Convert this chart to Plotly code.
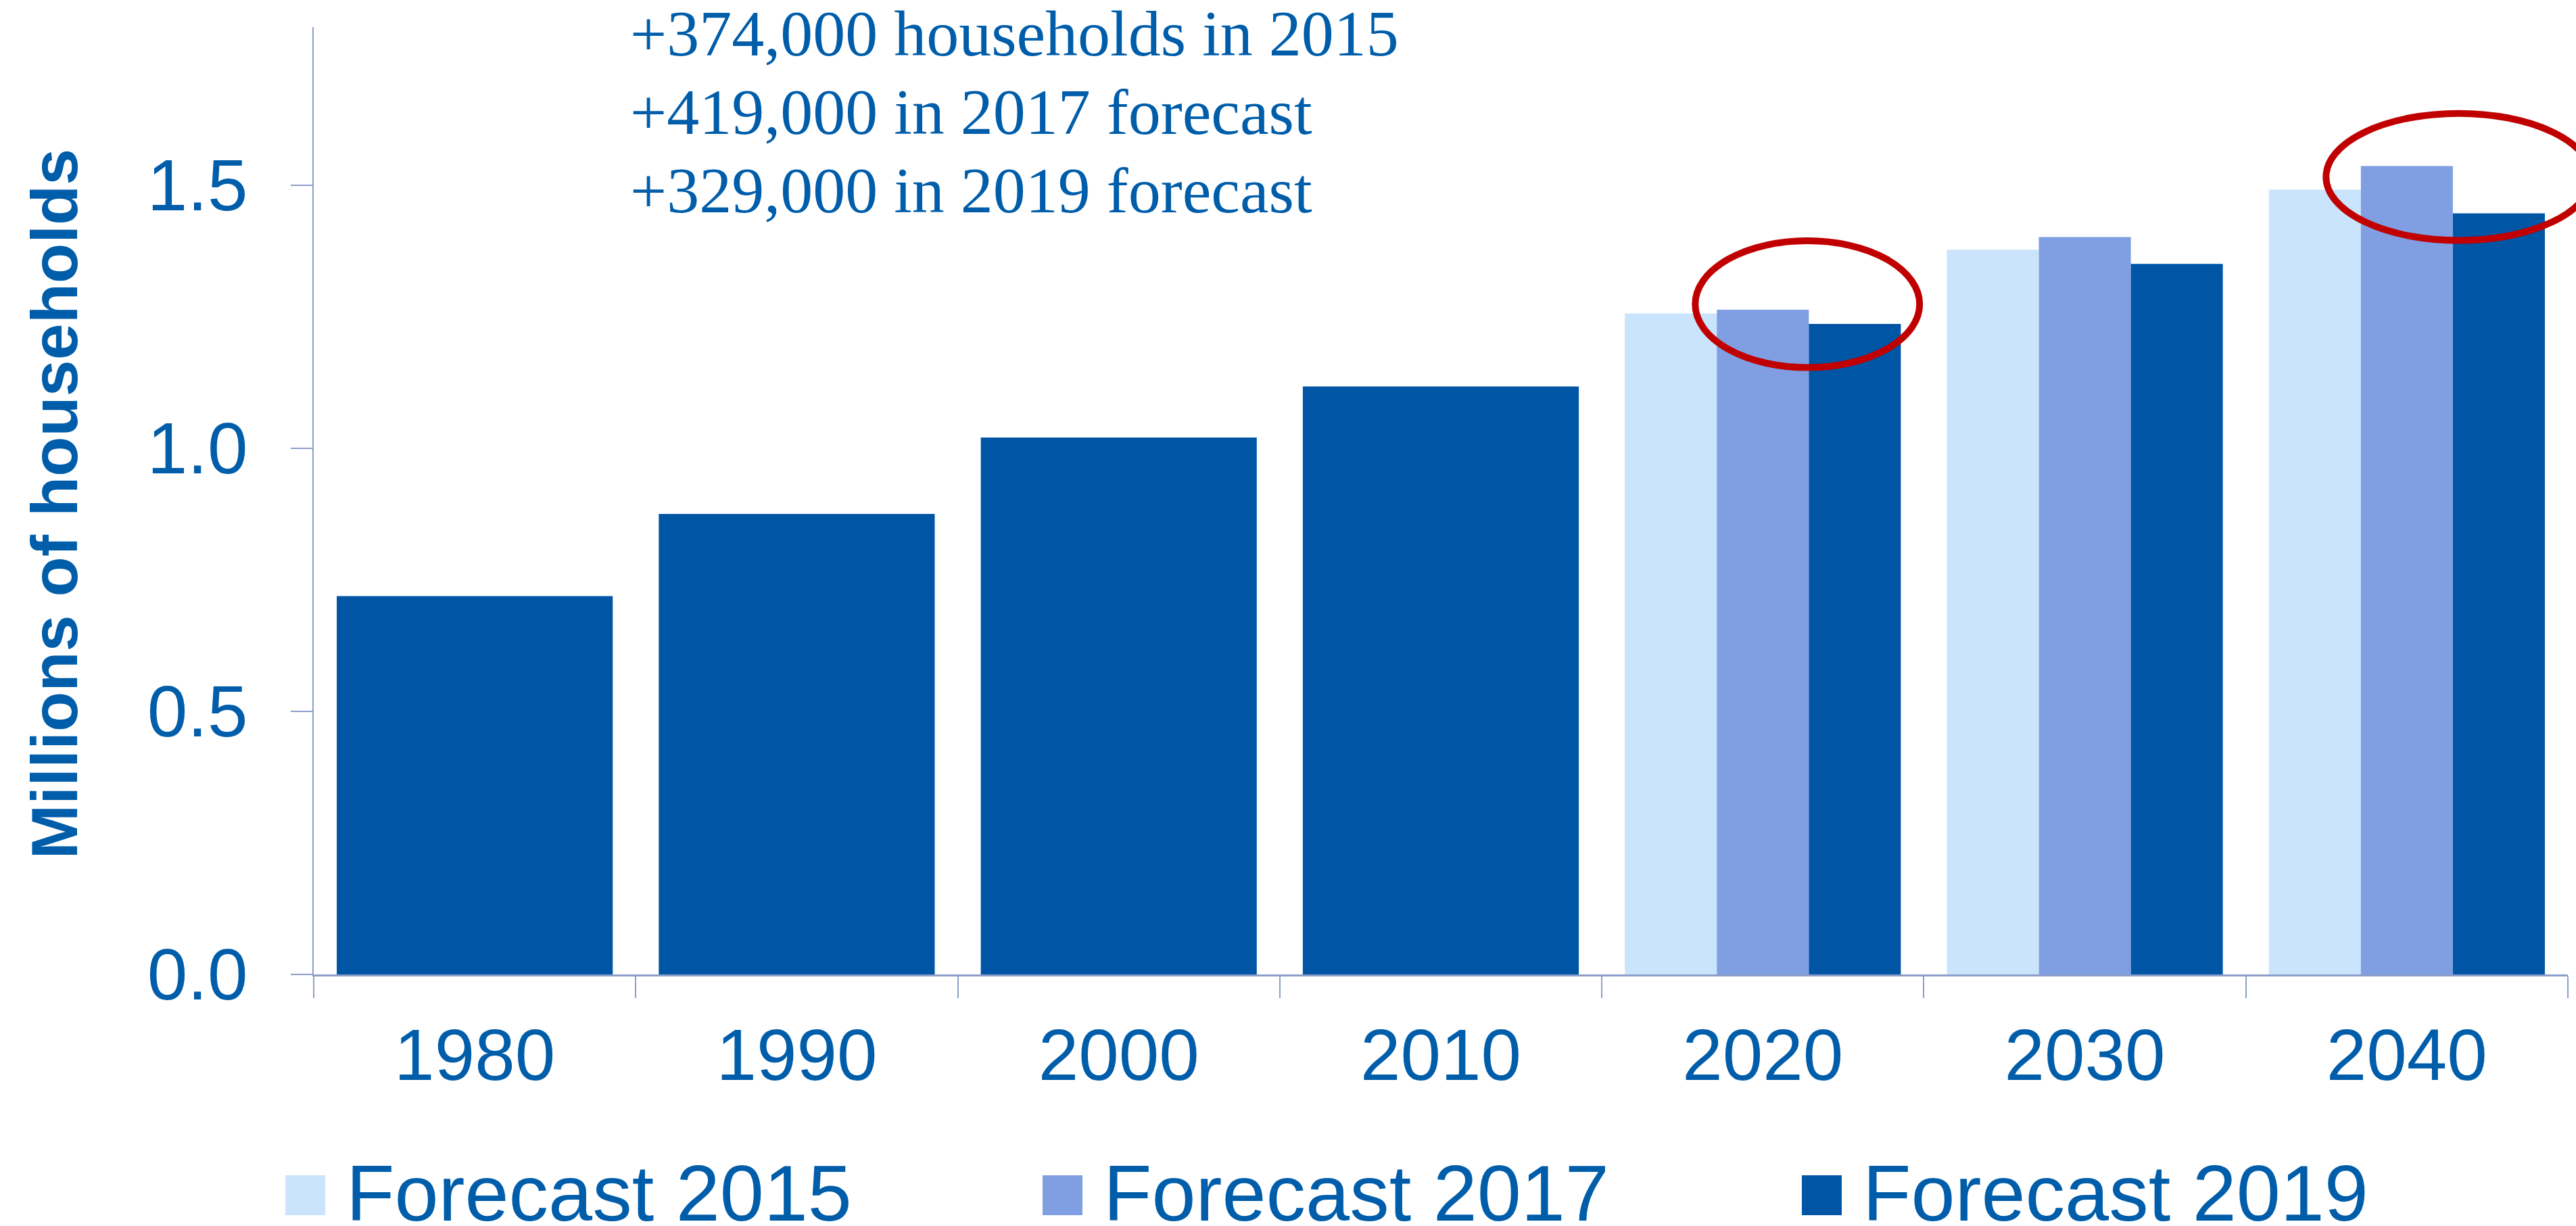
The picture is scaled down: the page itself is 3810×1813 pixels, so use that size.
import plotly.graph_objects as go

# ---- data -------------------------------------------------------------
years = ["1980", "1990", "2000", "2010", "2020", "2030", "2040"]

hist_years = ["1980", "1990", "2000", "2010"]
hist_values = [0.719, 0.875, 1.020, 1.117]

fc_years = ["2020", "2030", "2040"]
fc2015 = [1.256, 1.377, 1.491]
fc2017 = [1.263, 1.401, 1.536]
fc2019 = [1.236, 1.350, 1.446]

series_names = ["Forecast 2015", "Forecast 2017", "Forecast 2019"]

notes = [
    "+374,000 households in 2015",
    "+419,000 in 2017 forecast",
    "+329,000 in 2019 forecast",
]

y_ticks = [0.0, 0.5, 1.0, 1.5]

# ---- styling ----------------------------------------------------------
W, H = 3810, 1813
ML, MR, MT, MB = 464, 12, 40, 372
PW, PH = W - ML - MR, H - MT - MB

DARK = "#0055A5"
MID = "#7F9FE2"
LIGHT = "#CAE4FD"
TEXT = "#005DAA"
AXIS = "#8D9ECB"
RED = "#C00000"

SANS = "Liberation Sans, Arial, sans-serif"
SERIF = "Liberation Serif, Times New Roman, serif"

GROUP_W = 0.857          # share of a category taken by its bars
SLOT_W = GROUP_W / 3
Y_MAX = 1.8


def px_x(p):
    return (p - ML) / PW


def px_y(p):
    return (MT + PH - p) / PH


fig = go.Figure()

fig.add_trace(go.Bar(
    x=hist_years, y=hist_values, width=GROUP_W, offset=-GROUP_W / 2,
    marker=dict(color=DARK, line=dict(width=0)), showlegend=False,
))

for i, (vals, col) in enumerate(zip([fc2015, fc2017, fc2019], [LIGHT, MID, DARK])):
    fig.add_trace(go.Bar(
        x=fc_years, y=vals, width=SLOT_W, offset=-GROUP_W / 2 + i * SLOT_W,
        marker=dict(color=col, line=dict(width=0)), name=series_names[i],
        showlegend=False,
    ))

# highlight ellipses around the 2017-forecast bars (x in axis-domain fraction)
ncat = len(years)
for cx0, cx1, v0, v1 in [(3.790, 4.487, 1.153, 1.394), (5.749, 6.573, 1.3945, 1.636)]:
    fig.add_shape(
        type="circle", xref="x domain", yref="y domain",
        x0=(cx0 + 0.5) / ncat, x1=(cx1 + 0.5) / ncat,
        y0=v0 / Y_MAX, y1=v1 / Y_MAX,
        line=dict(color=RED, width=10), fillcolor="rgba(0,0,0,0)",
    )

# notes at the top
for k, txt in enumerate(notes):
    base = 84 + k * 115.5
    fig.add_annotation(
        text=txt, xref="paper", yref="paper", x=px_x(930), y=px_y(base - 34),
        xanchor="left", yanchor="middle", showarrow=False,
        font=dict(family=SERIF, size=96, color=TEXT),
    )

# y-axis title
fig.add_annotation(
    text="<b>Millions of households</b>", xref="paper", yref="paper",
    x=px_x(80), y=px_y(745.5), textangle=-90, showarrow=False,
    xanchor="center", yanchor="middle",
    font=dict(family=SANS, size=97, color=TEXT),
)

# legend drawn as swatches + labels
for sw_x, txt, col in zip([422, 1542, 2665], series_names, [LIGHT, MID, DARK]):
    fig.add_shape(
        type="rect", xref="paper", yref="paper",
        x0=px_x(sw_x), x1=px_x(sw_x + 59), y0=px_y(1797), y1=px_y(1738),
        fillcolor=col, line=dict(width=0),
    )
    fig.add_annotation(
        text=txt, xref="paper", yref="paper", x=px_x(sw_x + 88), y=px_y(1805 - 41),
        xanchor="left", yanchor="middle", showarrow=False,
        font=dict(family=SANS, size=117, color=TEXT),
    )

fig.update_layout(
    width=W, height=H,
    margin=dict(l=ML, r=MR, t=MT, b=MB, pad=0),
    paper_bgcolor="white", plot_bgcolor="white",
    barmode="overlay", showlegend=False,
    font=dict(family=SANS, color=TEXT),
)

fig.update_xaxes(
    type="category", categoryorder="array", categoryarray=years,
    range=[-0.5, ncat - 0.5], tickson="boundaries",
    ticks="outside", ticklen=32, tickwidth=2, tickcolor=AXIS,
    showline=True, linecolor=AXIS, linewidth=3, showgrid=False,
    tickfont=dict(family=SANS, size=107, color=TEXT), ticklabelstandoff=25,
)

fig.update_yaxes(
    range=[0, Y_MAX], tickvals=y_ticks, tickformat=".1f",
    ticks="outside", ticklen=32, tickwidth=2, tickcolor=AXIS,
    showline=True, linecolor=AXIS, linewidth=2, showgrid=False, zeroline=False,
    tickfont=dict(family=SANS, size=107, color=TEXT), ticklabelstandoff=42,
)

fig.write_html("out.html")
